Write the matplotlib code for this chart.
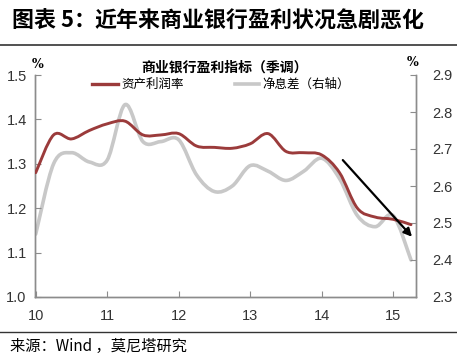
import matplotlib

matplotlib.use("Agg")
import matplotlib.pyplot as plt
import numpy as np
from matplotlib.path import Path
from matplotlib.patches import PathPatch
from matplotlib.lines import Line2D

plt.rcParams["font.family"] = ["Noto Sans CJK SC", "DejaVu Sans"]

# quarterly, 2010Q1 .. 2015Q2 (x in years, 10 = 2010)
quarters = [10 + 0.25 * i for i in range(22)]
roa = [1.28, 1.365, 1.356, 1.375, 1.39, 1.396, 1.365, 1.365, 1.368, 1.34, 1.337,
       1.335, 1.345, 1.368, 1.328, 1.325, 1.32, 1.28, 1.20, 1.18, 1.175, 1.163]
nim = [2.47, 2.66, 2.69, 2.665, 2.67, 2.82, 2.72, 2.72, 2.725, 2.63, 2.585,
       2.60, 2.655, 2.64, 2.615, 2.64, 2.675, 2.62, 2.52, 2.49, 2.52, 2.40]
year_ticks = [10, 11, 12, 13, 14, 15]
year_labels = ["10", "11", "12", "13", "14", "15"]

RED = "#9b3b3b"
GRAY = "#c8c8c8"
AXC = "#8c8c8c"
NUMFONT = "Liberation Sans"


def smooth_path(xs, ys):
    # Catmull-Rom style smoothing drawn as cubic Bezier segments
    pts = np.column_stack([xs, ys])
    verts = [pts[0]]
    codes = [Path.MOVETO]
    n = len(pts)
    for i in range(n - 1):
        p0 = pts[max(i - 1, 0)]
        p1 = pts[i]
        p2 = pts[i + 1]
        p3 = pts[min(i + 2, n - 1)]
        c1 = p1 + (p2 - p0) / 6.0
        c2 = p2 - (p3 - p1) / 6.0
        verts += [c1, c2, p2]
        codes += [Path.CURVE4] * 3
    return Path(verts, codes)


fig = plt.figure(figsize=(4.57, 3.61), dpi=100)
ax = fig.add_axes([35 / 457, 1 - 297 / 361, (416 - 35) / 457, (297 - 75) / 361])
ax2 = ax.twinx()

ax2.add_patch(PathPatch(smooth_path(quarters, nim), fill=False, edgecolor=GRAY,
                        lw=2.6, capstyle="round", joinstyle="round"))
ax.add_patch(PathPatch(smooth_path(quarters, roa), fill=False, edgecolor=RED,
                       lw=2.1, capstyle="round", joinstyle="round", zorder=3))
ax.set_zorder(ax2.get_zorder() + 1)
ax.patch.set_visible(False)

ax.set_xlim(9.99, 15.32)
ax.set_ylim(1.0, 1.5)
ax2.set_ylim(2.3, 2.9)
ax.set_yticks(np.arange(1.0, 1.51, 0.1))
ax.set_yticklabels(["%.1f" % v for v in np.arange(1.0, 1.51, 0.1)], family=NUMFONT)
ax2.set_yticks(np.arange(2.3, 2.91, 0.1))
ax2.set_yticklabels(["%.1f" % v for v in np.arange(2.3, 2.91, 0.1)], family=NUMFONT)
ax.set_xticks(year_ticks)
ax.set_xticklabels(year_labels, family=NUMFONT)

for a in (ax, ax2):
    a.spines["top"].set_visible(False)
    for s in ("left", "right", "bottom"):
        a.spines[s].set_color(AXC)
        a.spines[s].set_linewidth(1.0)
ax.tick_params(axis="both", direction="in", length=4, color=AXC, labelsize=10.5,
               labelcolor="#333333", pad=6)
ax.tick_params(axis="x", pad=9)
ax2.tick_params(axis="y", direction="in", length=4, color=AXC, labelsize=10.5,
                labelcolor="#333333", pad=12)

# arrow
ax.annotate("", xy=(15.29, 1.131), xytext=(14.27, 1.313),
            arrowprops=dict(arrowstyle="-|>", color="black", lw=1.6,
                            mutation_scale=12))

# units
fig.text(38 / 457, 1 - 64 / 361, "%", fontsize=9, fontweight="bold",
         ha="center", va="center", family="DejaVu Serif")
fig.text(413 / 457, 1 - 63 / 361, "%", fontsize=9, fontweight="bold",
         ha="center", va="center", family="DejaVu Serif")

# inner title and legend
fig.text(224 / 457, 1 - 68 / 361, "商业银行盈利指标（季调）", fontsize=10,
         fontweight="bold", ha="center", va="center")
fig.add_artist(Line2D([92 / 457, 118 / 457], [1 - 84 / 361] * 2, color=RED, lw=2.4))
fig.text(121 / 457, 1 - 84 / 361, "资产利润率", fontsize=9, ha="left", va="center")
fig.add_artist(Line2D([235 / 457, 259 / 457], [1 - 84 / 361] * 2, color=GRAY, lw=2.6))
fig.text(262 / 457, 1 - 84 / 361, "净息差（右轴）", fontsize=9, ha="left", va="center")

# header, rules, source
fig.text(12 / 457, 1 - 21 / 361, "图表 5：", fontsize=15.8,
         fontweight="bold", ha="left", va="center")
fig.text(94 / 457, 1 - 21 / 361, "近年来商业银行盈利状况急剧恶化", fontsize=15.8,
         fontweight="bold", ha="left", va="center")
fig.add_artist(Line2D([0, 1], [1 - 45 / 361] * 2, color="#333333", lw=1.2))
fig.add_artist(Line2D([0, 1], [1 - 332 / 361] * 2, color="#333333", lw=1.0))
fig.text(10 / 457, 1 - 346 / 361, "来源：Wind ，莫尼塔研究", fontsize=11,
         ha="left", va="center")

fig.savefig("out.png", dpi=100)
